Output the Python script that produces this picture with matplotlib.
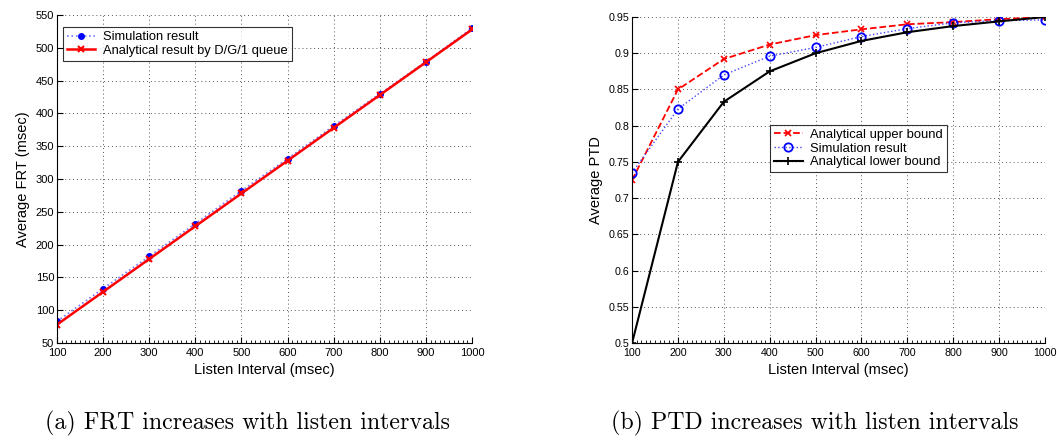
import matplotlib.pyplot as plt
import numpy as np
from matplotlib.ticker import MultipleLocator

plt.rcParams['font.family'] = ['Liberation Sans', 'DejaVu Sans']

# listen intervals (msec)
listen = [100, 200, 300, 400, 500, 600, 700, 800, 900, 1000]

# (a) average FRT (msec)
frt_sim = [83, 133, 182, 232, 282, 331, 381, 430, 479, 530]
frt_dg1 = [78, 128, 178, 228, 278, 328, 378, 428, 478, 528]

# (b) average PTD
ptd_upper = [0.725, 0.850, 0.892, 0.912, 0.925, 0.933, 0.940, 0.943, 0.947, 0.950]
ptd_sim = [0.735, 0.823, 0.870, 0.896, 0.908, 0.923, 0.934, 0.942, 0.945, 0.946]
ptd_lower = [0.500, 0.750, 0.833, 0.875, 0.900, 0.917, 0.929, 0.9375, 0.944, 0.950]

captions = ['(a) FRT increases with listen intervals',
            '(b) PTD increases with listen intervals']

fig = plt.figure(figsize=(10.57, 4.42), dpi=100)
ax1 = fig.add_axes([0.0539, 0.224, 0.3927, 0.742])
ax2 = fig.add_axes([0.598, 0.224, 0.3906, 0.7375])


def style_axes(ax, tick_size):
    ax.spines['top'].set_visible(False)
    ax.spines['right'].set_visible(False)
    ax.grid(True, linestyle=(0, (1, 3)), color='#555555', linewidth=0.7)
    ax.tick_params(direction='in', length=4, labelsize=tick_size, pad=2)
    ax.tick_params(axis='x', pad=3.5)
    ax.tick_params(which='minor', direction='in', length=2)
    ax.set_xlim(100, 1000)
    ax.set_xticks(listen)
    ax.xaxis.set_minor_locator(MultipleLocator(10))


legend_kw = dict(frameon=True, fancybox=False, edgecolor='black',
                 handlelength=2.2, borderpad=0.3, labelspacing=0.12,
                 handletextpad=0.6, borderaxespad=0)

# ---- (a) ----
ax1.plot(listen, frt_sim, ':', color='#7777ff', marker='o', markersize=4,
         markerfacecolor='blue', markeredgecolor='blue', linewidth=1.2,
         label='Simulation result')
ax1.plot(listen, frt_dg1, '-', color='red', marker='x', markersize=4,
         markeredgewidth=1.5, linewidth=1.8,
         label='Analytical result by D/G/1 queue')
ax1.set_ylim(50, 550)
ax1.set_yticks(np.arange(50, 551, 50))
style_axes(ax1, 8)
ax1.set_xlabel('Listen Interval (msec)', fontsize=10.5, labelpad=4)
ax1.set_ylabel('Average FRT (msec)', fontsize=10.5, labelpad=4)
leg1 = ax1.legend(loc='upper left', bbox_to_anchor=(0.0145, 0.963),
                  fontsize=9.3, **legend_kw)
leg1.get_frame().set_linewidth(0.8)

# ---- (b) ----
ax2.plot(listen, ptd_upper, '--', color='red', marker='x', markersize=4,
         markeredgewidth=1.2, linewidth=1.3, label='Analytical upper bound')
ax2.plot(listen, ptd_sim, ':', color='#4444ff', marker='o', markersize=6,
         markerfacecolor='none', markeredgecolor='blue', markeredgewidth=1.3,
         linewidth=1.0, label='Simulation result')
ax2.plot(listen, ptd_lower, '-', color='black', marker='+', markersize=6,
         markeredgewidth=1.2, linewidth=1.5, label='Analytical lower bound')
ax2.set_ylim(0.5, 0.95)
ax2.set_yticks(np.arange(0.5, 0.951, 0.05))
ax2.set_yticklabels(['0.5', '0.55', '0.6', '0.65', '0.7', '0.75', '0.8',
                     '0.85', '0.9', '0.95'])
style_axes(ax2, 7.7)
ax2.set_xlabel('Listen Interval (msec)', fontsize=10.5, labelpad=4)
ax2.set_ylabel('Average PTD', fontsize=10.5, labelpad=4)
leg2 = ax2.legend(loc='upper left', bbox_to_anchor=(0.334, 0.669),
                  fontsize=9.4, **legend_kw)
leg2.get_frame().set_linewidth(0.8)

# captions below each panel
fig.text(0.2346, 0.043, captions[0], fontsize=17.2, family=['cmr10', 'DejaVu Serif'],
         ha='center', va='center')
fig.text(0.771, 0.043, captions[1], fontsize=17.2, family=['cmr10', 'DejaVu Serif'],
         ha='center', va='center')

plt.savefig('out.png', dpi=100)
